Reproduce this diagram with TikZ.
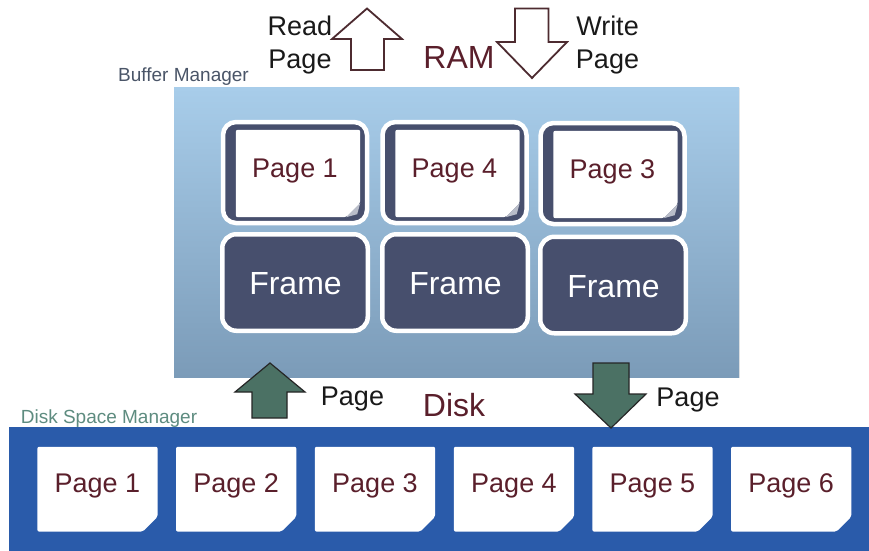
\documentclass[tikz,border=0pt]{standalone}
\usepackage{fontspec}
\setmainfont{Liberation Sans}
\usetikzlibrary{shadows}
\definecolor{maroon}{HTML}{5A1F2B}
\definecolor{navy}{HTML}{474F6D}
\definecolor{bmtop}{HTML}{A8CDEA}
\definecolor{bmbot}{HTML}{7B9BB8}
\definecolor{diskblue}{HTML}{2A5BAA}
\definecolor{arrowgreen}{HTML}{4B7164}
\definecolor{bmlabel}{HTML}{4A5568}
\definecolor{dsmlabel}{HTML}{5E8C80}
\definecolor{outlinec}{HTML}{4D2B30}
\definecolor{foldc}{HTML}{B9BDC9}
\tikzset{
  cardbox/.style={fill=navy, draw=white, line width=4.5pt, rounded corners=13pt,
    minimum width=144pt, minimum height=101pt, inner sep=0pt},
  framebox/.style={fill=navy, draw=white, line width=4.5pt, rounded corners=14pt,
    minimum width=145.5pt, minimum height=96.5pt, inner sep=0pt},
  pagebox/.style={draw=none, fill=none, inner sep=0pt},
  pagefill/.style={fill=white, rounded corners=2pt},
  pagetext/.style={text=maroon, font=\fontsize{27}{30}\selectfont, inner sep=0pt, anchor=base},
  frametext/.style={text=white, font=\fontsize{32}{35}\selectfont, inner sep=0pt, anchor=base},
  bigtext/.style={text=maroon, font=\fontsize{32}{35}\selectfont, inner sep=0pt, anchor=base},
  blacktext/.style={text=black!90, font=\fontsize{27}{30}\selectfont, inner sep=0pt, anchor=base},
  mgrtext/.style={font=\fontsize{19}{21}\selectfont, inner sep=0pt, anchor=base},
  hollowarrow/.style={draw=outlinec, line width=1.8pt, fill=white, line join=miter},
  greenarrow/.style={draw=black!85, line width=1.2pt, fill=arrowgreen, line join=miter},
}
\begin{document}
\begin{tikzpicture}[x=1pt,y=-1pt]
\useasboundingbox (0,0) rectangle (869,550);
\fill[white] (0,0) rectangle (869,550);

% Buffer manager box
\node[top color=bmtop, bottom color=bmbot, minimum width=565pt, minimum height=290pt,
  inner sep=0pt, anchor=north west,
  drop shadow={shadow xshift=1pt, shadow yshift=-1pt, opacity=0.18}] (bm) at (174,87) {};
\node[mgrtext, text=bmlabel] (bmlab) at (183.5,81) {Buffer Manager};

% Cards in RAM
\foreach \n/\cx/\cy/\lab in {c1/295/172.5/Page 1, c2/454.5/172.5/Page 4, c3/612.5/173.5/Page 3}{
  \node[cardbox] (\n) at (\cx,\cy) {};
  \node[pagebox, minimum width=124pt, minimum height=87pt] (\n p) at (\cx+3,\cy+1) {};
  \fill[pagefill] (\n p.north west) -- (\n p.north east) -- ([yshift=14pt]\n p.south east)
     -- ([xshift=-14pt]\n p.south east) -- (\n p.south west) -- cycle;
  \fill[foldc] ([yshift=14pt]\n p.south east) -- ([xshift=-14pt]\n p.south east)
     -- ([xshift=-3pt,yshift=3pt]\n p.south east) -- cycle;
  \node[pagetext] (\n t) at (\cx,\cy+4.5) {\lab};
}

% Frames
\foreach \n/\cx/\cy/\by in {f1/295/282.5/294.5, f2/455/282.5/294.5, f3/613/285/297}{
  \node[framebox] (\n) at (\cx,\cy) {};
  \node[frametext] (\n t) at (\cx+0.5,\by) {Frame};
}

% Top labels and arrows
\node[blacktext] (read) at (300,35) {Read};
\node[blacktext] (readp) at (300,68.3) {Page};
\node[blacktext] (write) at (607.5,35) {Write};
\node[blacktext] (writep) at (607.5,68.3) {Page};
\node[bigtext] (ram) at (459,68.5) {RAM};
\draw[hollowarrow] (367,8.5) -- (402,39) -- (384,39) -- (384,70) -- (351,70) -- (351,39) -- (332,39) -- cycle;
\draw[hollowarrow] (515,8.5) -- (548.5,8.5) -- (548.5,42) -- (567,42) -- (532,78) -- (497,42) -- (515,42) -- cycle;

% Disk box
\fill[diskblue] (8.5,427) rectangle (872,553);
\node[mgrtext, text=dsmlabel] (dsmlab) at (109,423.3) {Disk Space Manager};
\foreach \n/\cx/\lab in {d1/97.5/Page 1, d2/236.2/Page 2, d3/375/Page 3, d4/514/Page 4, d5/652.5/Page 5, d6/791.2/Page 6}{
  \node[pagebox, minimum width=120pt, minimum height=84.5pt] (\n) at (\cx,489.2) {};
  \fill[pagefill] (\n.north west) -- (\n.north east) -- ([yshift=15pt]\n.south east)
     -- ([xshift=-15pt]\n.south east) -- (\n.south west) -- cycle;
  \node[pagetext] (\n t) at (\cx,492.7) {\lab};
}

% Bottom labels and arrows
\node[blacktext] (pgl) at (352.5,405) {Page};
\node[bigtext] (disk) at (454,416) {Disk};
\node[blacktext] (pgr) at (688,406.7) {Page};
\draw[greenarrow] (270,363) -- (305,392) -- (287,392) -- (287,418) -- (252,418) -- (252,392) -- (235,392) -- cycle;
\draw[greenarrow] (593,363) -- (629,363) -- (629,394) -- (646,394) -- (611,428) -- (575,394) -- (593,394) -- cycle;
\end{tikzpicture}
\end{document}
